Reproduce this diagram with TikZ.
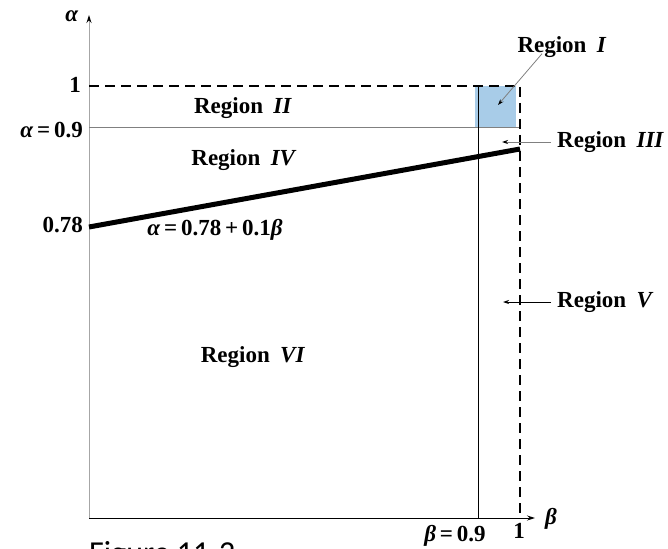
\documentclass[tikz,border=0pt]{standalone}
\usepackage{fontspec}
\setmainfont{Liberation Serif}
\newfontfamily\capfont{Carlito}
\usetikzlibrary{arrows.meta}
\definecolor{regblue}{RGB}{168,204,232}
\newcommand{\rgap}{\hspace{0.45em}}
\tikzset{
  lab/.style={font=\fontsize{23}{27}\selectfont\bfseries, inner sep=0pt},
  ptr/.style={draw=gray, line width=0.8pt, -{Stealth[black,length=6pt,width=4pt]}},
  axtip/.style={-{Stealth[black,length=8pt,width=5pt]}},
  bound/.style={dashed, line width=1.4pt, dash pattern=on 10pt off 6pt},
}
\begin{document}
\begin{tikzpicture}[x=1pt,y=-1pt]
\useasboundingbox (0,0) rectangle (668,548);
% region I fill
\fill[regblue] (475,86) rectangle (516,127);
% axes
\coordinate (O) at (89,518);
\coordinate (ytop) at (89,15);
\coordinate (xend) at (535,518);
\draw[gray!70, line width=1pt, axtip] (O) -- (ytop);
\draw[black, line width=1pt, axtip] (O) -- (xend);
% guide lines
\coordinate (a9l) at (89,128);
\coordinate (a9r) at (520,128);
\draw[gray, line width=1pt] (a9l) -- (a9r);
\coordinate (b9t) at (478,86);
\coordinate (b9b) at (478,518);
\draw[black, line width=1pt] (b9t) -- (b9b);
\coordinate (a1l) at (89,86);
\coordinate (c11) at (520,86);
\coordinate (b1b) at (520,518);
\draw[bound] (a1l) -- (c11) -- (b1b);
% boundary line
\coordinate (L0) at (89,227);
\coordinate (L1) at (520,149);
\draw[line width=5pt] (L0) -- (L1);
% axis labels
\node[lab] (alab) at (72,16) {\textit{α}};
\node[lab] (blab) at (551,519) {\textit{β}};
\node[lab, anchor=east] (one) at (81,85) {1};
\node[lab, anchor=east] (a9) at (83,130) {\textit{α}\,=\,0.9};
\node[lab, anchor=east] (a78) at (83,225) {0.78};
\node[lab] (eq) at (215,230) {\textit{α}\,=\,0.78\,+\,0.1\textit{β}};
\node[lab] (b9) at (455,536) {\textit{β}\,=\,0.9};
\node[lab] (bone) at (519,531) {1};
% region labels
\node[lab] (r2) at (243,108) {Region\rgap\textit{II}};
\node[lab] (r4) at (244,160) {Region\rgap\textit{IV}};
\node[lab] (r6) at (253,357) {Region\rgap\textit{VI}};
\node[lab] (r1) at (562,47) {Region\rgap\textit{I}};
\node[lab, anchor=west] (r3) at (557,142) {Region\rgap\textit{III}};
\node[lab, anchor=west] (r5) at (557,302) {Region\rgap\textit{V}};
\coordinate (t1) at (498,105);
\coordinate (t3) at (502,142);
\coordinate (t5) at (503,302);
\draw[ptr] ([xshift=-20pt,yshift=4pt]r1.south) -- (t1);
\draw[ptr] ([xshift=-6pt]r3.west) -- (t3);
\draw[ptr, draw=black] ([xshift=-6pt]r5.west) -- (t5);
% caption
\node[anchor=base west, inner sep=0pt, font=\capfont\fontsize{32}{38}\selectfont] (cap) at (89,563) {Figure 11-2};
\end{tikzpicture}
\end{document}
